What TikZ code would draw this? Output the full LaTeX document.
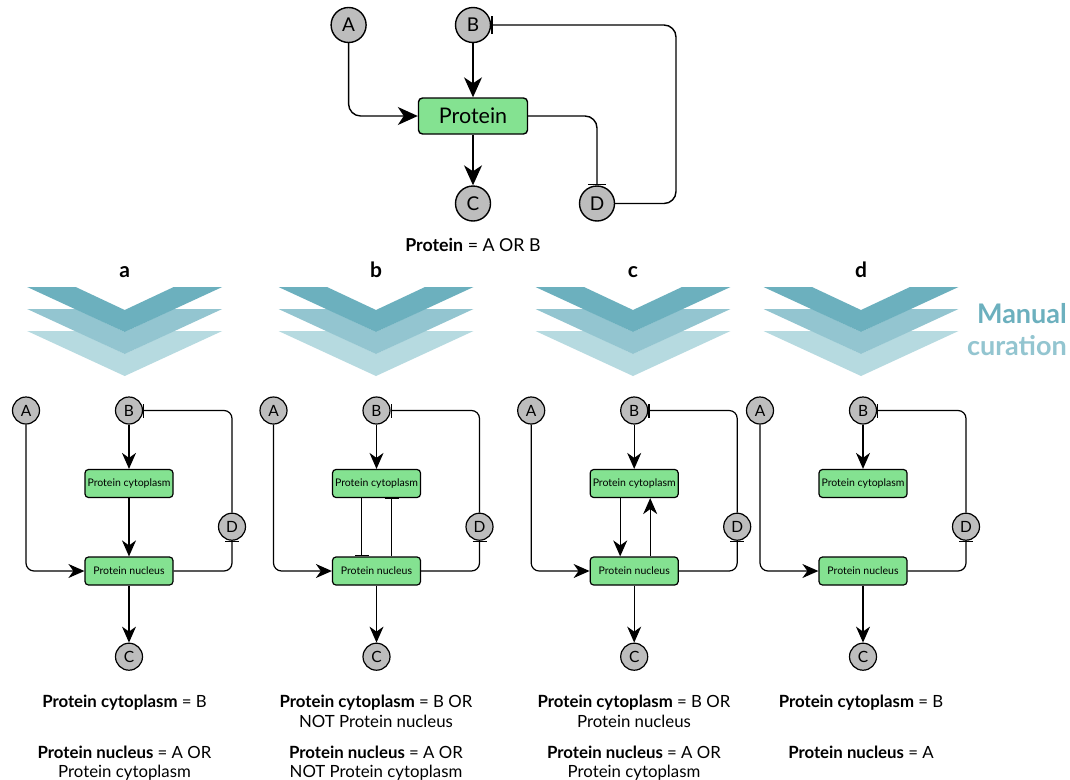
\documentclass[tikz,border=0pt]{standalone}
\usepackage{fontspec}
\setmainfont{Lato}
\usetikzlibrary{arrows.meta}
\definecolor{boxgreen}{HTML}{84E291}
\definecolor{nodegray}{HTML}{BDBDBD}
\definecolor{chevA}{HTML}{6CB0BE}
\definecolor{chevB}{HTML}{93C5D0}
\definecolor{chevC}{HTML}{B6DAE0}
\newcommand\chevron[3]{\fill[#3] (#1-97.5,#2) -- (#1-49,#2) -- (#1,#2+23) -- (#1+49,#2) -- (#1+97.5,#2) -- (#1,#2+45) -- cycle;}
\newcommand\chevstack[1]{\chevron{#1}{331}{chevC}\chevron{#1}{309}{chevB}\chevron{#1}{287}{chevA}}
\newcommand\panelbase[2]{%
  \node[smallcirc] (#1A) at (#2-103,410.5) {A};
  \node[smallcirc] (#1B) at (#2,410.5) {B};
  \node[smallcirc] (#1C) at (#2,656.7) {C};
  \node[smallcirc] (#1D) at (#2+103,526.7) {D};
  \node[smallbox] (#1Y) at (#2,483.5) {Protein cytoplasm};
  \node[smallbox] (#1N) at (#2,571) {Protein nucleus};
  \draw[smallact, rounded corners=8pt] (#1A) |- (#1N);
  \draw[smallact] (#1B) -- (#1Y);
  \draw[smallact] (#1N) -- (#1C);
  \draw[smalltee, rounded corners=8pt] (#1N) -| (#1D);
  \draw[smalltee, rounded corners=8pt] (#1D) |- (#1B);
}
\begin{document}
\begin{tikzpicture}[x=1pt,y=-1pt,
  bigcirc/.style={circle,draw=black,fill=nodegray,line width=1.4pt,minimum size=35pt,inner sep=0pt,font=\fontsize{19}{19}\selectfont},
  smallcirc/.style={circle,draw=black,fill=nodegray,line width=1.2pt,minimum size=27pt,inner sep=0pt,font=\fontsize{15.5}{15.5}\selectfont},
  bigbox/.style={rectangle,rounded corners=4pt,draw=black,fill=boxgreen,line width=1.4pt,minimum width=109pt,minimum height=36pt,inner sep=0pt,font=\fontsize{21.5}{21.5}\selectfont},
  smallbox/.style={rectangle,rounded corners=3.5pt,draw=black,fill=boxgreen,line width=1.2pt,minimum width=88pt,minimum height=28pt,inner sep=0pt,font=\fontsize{10.5}{11}\selectfont},
  bigact/.style={-{Stealth[length=20pt,width=18pt,inset=6pt]},line width=1.4pt},
  bigtee/.style={-{Bar[width=18pt,line width=1.4pt]},line width=1.4pt},
  smallact/.style={-{Stealth[length=16pt,width=14pt,inset=5pt]},line width=1.2pt},
  smalltee/.style={-{Bar[width=14pt,line width=1.2pt]},line width=1.2pt},
  formula/.style={anchor=base,inner sep=0pt,font=\fontsize{16.8}{16.8}\selectfont},
  panellabel/.style={anchor=base,inner sep=0pt,font=\fontsize{21}{21}\selectfont\bfseries},
]
\useasboundingbox (0,0) rectangle (1070,779);
\fill[white] (0,0) rectangle (1070,779);

% top network
\node[bigcirc] (A) at (348.6,25) {A};
\node[bigcirc] (B) at (473,25) {B};
\node[bigbox] (P) at (473,116) {Protein};
\node[bigcirc] (C) at (473,203.5) {C};
\node[bigcirc] (D) at (597,203.5) {D};
\coordinate (tr) at (676,25);
\draw[bigact, rounded corners=12pt] (A) |- (P);
\draw[bigact] (B) -- (P);
\draw[bigact] (P) -- (C);
\draw[bigtee, rounded corners=12pt] (P) -| (D);
\draw[bigtee, rounded corners=12pt] (D) -| (tr) -- (B);
\node[formula,font=\fontsize{17.8}{17.8}\selectfont] (ftop) at (473,251) {\textbf{Protein} = A OR B};

% panel labels and chevrons
\chevstack{124.7}
\chevstack{376}
\chevstack{633}
\chevstack{861}
\node[panellabel] (la) at (124.7,277) {a};
\node[panellabel] (lb) at (376,277) {b};
\node[panellabel] (lc) at (633,277) {c};
\node[panellabel] (ld) at (861,277) {d};
\node[anchor=base east,inner sep=0pt,text=chevA,font=\fontsize{27}{27}\selectfont\bfseries] (man) at (1067,323) {Manual};
\node[anchor=base east,inner sep=0pt,text=chevB,font=\fontsize{27}{27}\selectfont\bfseries] (cur) at (1067,355) {curation};

% panel a
\panelbase{a}{129}
\draw[smallact] (aY) -- (aN);
% panel b
\panelbase{b}{376.5}
\draw[smalltee] ([xshift=-15pt]bY.south) -- ([xshift=-15pt]bN.north);
\draw[smalltee] ([xshift=15pt]bN.north) -- ([xshift=15pt]bY.south);
% panel c
\panelbase{c}{634.2}
\draw[smallact] ([xshift=-14pt]cY.south) -- ([xshift=-14pt]cN.north);
\draw[smallact] ([xshift=16pt]cN.north) -- ([xshift=16pt]cY.south);
% panel d
\panelbase{d}{863}

% formulas
\node[formula] (fa1) at (124.5,707.5) {\textbf{Protein cytoplasm} = B};
\node[formula] (fa2) at (124.5,758.5) {\textbf{Protein nucleus} = A OR};
\node[formula] (fa3) at (124.5,777.5) {Protein cytoplasm};
\node[formula] (fb1) at (376,707.5) {\textbf{Protein cytoplasm} = B OR};
\node[formula] (fb2) at (376,727) {NOT Protein nucleus};
\node[formula] (fb3) at (376,758.5) {\textbf{Protein nucleus} = A OR};
\node[formula] (fb4) at (376,777.5) {NOT Protein cytoplasm};
\node[formula] (fc1) at (634,707.5) {\textbf{Protein cytoplasm} = B OR};
\node[formula] (fc2) at (634,727) {Protein nucleus};
\node[formula] (fc3) at (634,758.5) {\textbf{Protein nucleus} = A OR};
\node[formula] (fc4) at (634,777.5) {Protein cytoplasm};
\node[formula] (fd1) at (861,707.5) {\textbf{Protein cytoplasm} = B};
\node[formula] (fd2) at (861,758.5) {\textbf{Protein nucleus} = A};
\end{tikzpicture}
\end{document}
